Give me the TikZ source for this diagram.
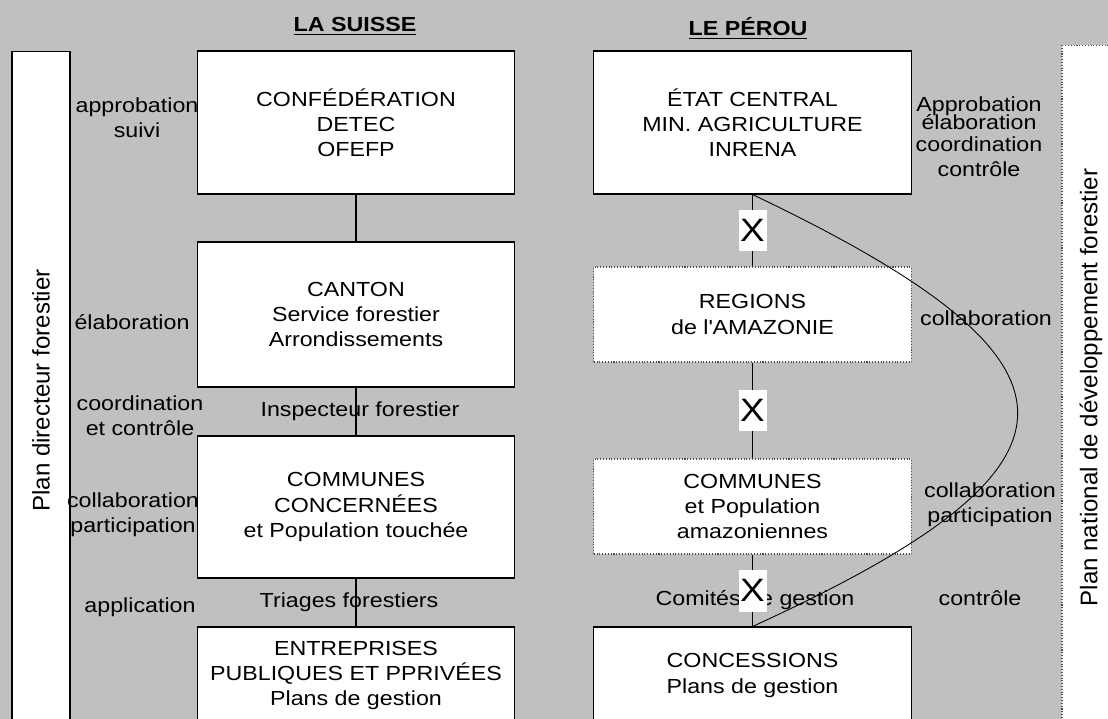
\documentclass[tikz,border=0pt]{standalone}
\usepackage{fontspec}
\setmainfont{Liberation Sans}[FakeStretch=1.14]
\newfontfamily\rotfont{Liberation Sans}
\usepackage{tikz}
\definecolor{bggray}{HTML}{C0C0C0}
\definecolor{dotgray}{HTML}{505050}
\newcommand{\txt}{\fontsize{11.6pt}{14.35pt}\selectfont}
\newcommand{\bigx}{\fontsize{18.4pt}{20pt}\selectfont}
\newcommand{\rottxt}{\rotfont\fontsize{13.7pt}{15pt}\selectfont}

\begin{document}
\begin{tikzpicture}[x=0.02cm,y=0.02cm,
  box/.style={draw=black,fill=white,line width=0.6pt,minimum width=6.35cm,align=center,inner sep=0pt,font=\txt},
  dotbox/.style={box,draw=dotgray,densely dotted},
  lab/.style={align=center,inner sep=0pt,font=\txt},
  head/.style={inner sep=0pt,font=\txt\bfseries,anchor=base},
  xmark/.style={fill=white,inner sep=0pt,minimum width=0.56cm,minimum height=0.84cm,font=\bigx},
  bar/.style={draw=black,fill=white,line width=0.6pt,rotate=90,minimum height=1.16cm,inner sep=0pt,font=\rottxt}]
\useasboundingbox (0,0) rectangle (1108,-719);
\clip (0,0) rectangle (1108,-719);
\fill [bggray] (0,0) rectangle (1108,-719);
\node [bar,minimum width=13.58cm] (pdir) at (41,-390.5) {Plan directeur forestier};
\node [bar,draw=dotgray,densely dotted,minimum width=13.7cm] (pnat) at (1091,-387.5) {Plan national de développement forestier};
\node [head] (suisse) at (355,-31.7) {\underline{LA SUISSE}};
\node [head] (perou) at (748,-35.7) {\underline{LE PÉROU}};
\node [box,minimum height=2.86cm] (conf) at (356,-122.5) {CONFÉDÉRATION\\DETEC\\OFEFP};
\node [box,minimum height=2.9cm] (canton) at (356,-314.5) {CANTON\\Service forestier\\Arrondissements};
\node [box,minimum height=2.84cm] (commch) at (356,-507) {COMMUNES\\CONCERNÉES\\et Population touchée};
\node [box,minimum height=1.94cm] (entr) at (356,-675.5) {ENTREPRISES\\PUBLIQUES ET PPRIVÉES\\Plans de gestion};
\node [box,minimum height=2.86cm] (etat) at (752.5,-122.5) {ÉTAT CENTRAL\\MIN. AGRICULTURE\\INRENA};
\node [dotbox,minimum height=1.9cm] (regions) at (752.5,-314.5) {REGIONS\\de l\textquotesingle AMAZONIE};
\node [dotbox,minimum height=1.9cm] (commpe) at (752.5,-506.5) {COMMUNES\\et Population\\amazoniennes};
\node [box,minimum height=1.94cm] (conc) at (752.5,-675.5) {CONCESSIONS\\Plans de gestion};
\node [lab] (appr) at (137,-118) {approbation\\suivi};
\node [lab] (elab) at (132,-322) {élaboration};
\node [lab] (coord) at (140,-416) {coordination\\et contrôle};
\node [lab] (collch) at (133,-515) {collaboration\\participation};
\node [lab] (appl) at (140,-607) {application};
\node [lab] (insp) at (360,-411) {Inspecteur forestier};
\node [lab] (triag) at (349,-602) {Triages forestiers};
\node [lab] (comit) at (755,-600) {Comités de gestion};
\node [lab] (apprpe) at (979,-137) {Approbation\\[-4pt]élaboration\\[-2pt]coordination\\contrôle};
\node [lab] (collpe) at (986,-318) {collaboration};
\node [lab] (partpe) at (990,-505) {collaboration\\participation};
\node [lab] (ctrlpe) at (980,-598) {contrôle};
\draw [line width=0.6pt] (conf) -- (canton);
\draw [line width=0.6pt] (canton) -- (commch);
\draw [line width=0.6pt] (commch) -- (entr);
\draw [line width=0.6pt] (etat) -- node [xmark] {X} (regions);
\draw [line width=0.6pt] (regions) -- node [xmark] {X} (commpe);
\draw [line width=0.6pt] (commpe) -- node [xmark] {X} (conc);
\draw [line width=0.5pt] (etat.south) .. controls (1106,-363) and (1106,-465) .. (conc.north);
\end{tikzpicture}
\end{document}
